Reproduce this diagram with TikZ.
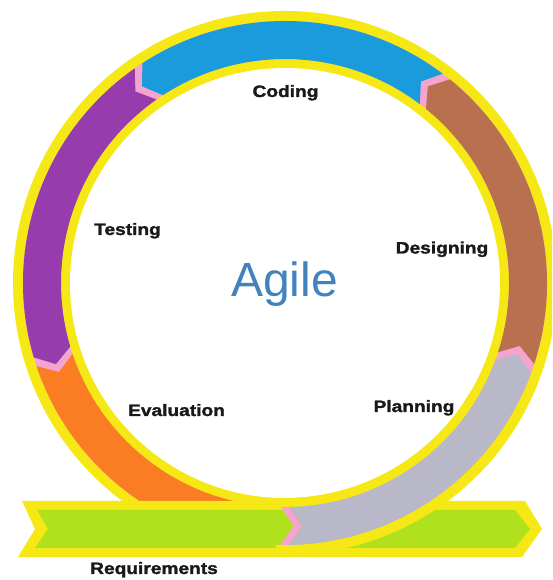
\documentclass[tikz,border=0pt]{standalone}
\usepackage{fontspec}
\setmainfont{Liberation Sans}
\newfontfamily\lblfont[FakeStretch=1.16, BoldFeatures={FakeBold=1.6}]{Liberation Sans}

\definecolor{ringyellow}{RGB}{245,232,20}
\definecolor{gappink}{RGB}{245,165,205}
\definecolor{codeblue}{RGB}{25,155,220}
\definecolor{designbrown}{RGB}{184,112,78}
\definecolor{planninggrey}{RGB}{184,184,200}
\definecolor{testpurple}{RGB}{150,60,172}
\definecolor{evalorange}{RGB}{250,125,35}
\definecolor{reqgreen}{RGB}{175,225,28}
\definecolor{agileblue}{RGB}{66,130,190}
\definecolor{labelblack}{RGB}{25,25,25}

\newcommand{\ringout}{262pt}
\newcommand{\ringin}{224pt}
\newcommand{\ringmid}{243pt}
\newcommand{\ringpart}[3]{\fill[#1] (#2:\ringout) arc[start angle=#2, end angle=#3, radius=\ringout] -- (#3+3:\ringmid) -- (#3:\ringin) arc[start angle=#3, end angle=#2, radius=\ringin] -- (#2+3:\ringmid) -- cycle;}

\begin{document}
\begin{tikzpicture}[x=1pt, y=1pt,
    stage/.style={font=\lblfont\bfseries\fontsize{16.5}{18}\selectfont, text=labelblack, anchor=base, inner sep=0pt}]
    \clip (0,0) rectangle (552,580);
    \fill[white] (0,0) rectangle (552,580);

    \begin{scope}[shift={(285,297)}]
        \fill[ringyellow] (0,0) circle[radius=272pt];
        \fill[gappink] (0,0) circle[radius=\ringout];
        \fill[ringyellow] (0,0) circle[radius=\ringin];
        \ringpart{designbrown}{-18}{51}
        \ringpart{codeblue}{53}{123}
        \ringpart{testpurple}{125}{196.5}
        \ringpart{evalorange}{198.5}{262}
        \fill[white] (0,0) circle[radius=215pt];
    \end{scope}

    \fill[ringyellow] (22,79) -- (35,51) -- (18,23) -- (522,23) -- (542,51) -- (525,79) -- cycle;
    \fill[reqgreen] (37,70) -- (48,51) -- (35,32) -- (515,32) -- (530,51) -- (515,70) -- cycle;

    \begin{scope}[shift={(285,297)}]
        \draw[ringyellow, line width=10pt] (-92:267pt) arc[start angle=-92, end angle=-30, radius=267pt];
        \draw[ringyellow, line width=9pt] (-92:219.5pt) arc[start angle=-92, end angle=-30, radius=219.5pt];
        \fill[gappink] (-91:\ringout) -- (-88:\ringmid) -- (-91:\ringin) -- (-89:\ringin) -- (-86:\ringmid) -- (-89:\ringout) -- cycle;
        \ringpart{planninggrey}{-89}{-20}
    \end{scope}

    \node[stage] (coding) at (285.5,483) {Coding};
    \node[stage] (testing) at (127.5,345) {Testing};
    \node[stage] (designing) at (442,326.5) {Designing};
    \node[stage] (evaluation) at (176.5,164) {Evaluation};
    \node[stage] (planning) at (414,168) {Planning};
    \node[stage] (requirements) at (154,6) {Requirements};
    \node[font=\fontsize{48}{58}\selectfont, text=agileblue, anchor=base, inner sep=0pt] (agile) at (284.5,283) {Agile};
\end{tikzpicture}
\end{document}
